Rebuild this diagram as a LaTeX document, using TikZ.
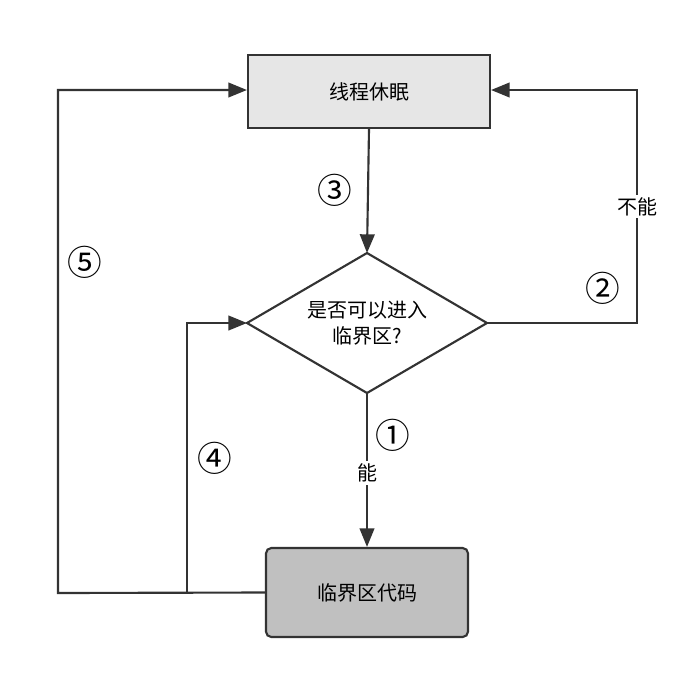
\documentclass[tikz,border=0pt]{standalone}
\usepackage{fontspec}
\setmainfont{Noto Sans CJK SC}
\usetikzlibrary{arrows.meta}
\definecolor{lg}{HTML}{E6E6E6}
\definecolor{dg}{HTML}{C0C0C0}
\definecolor{ln}{HTML}{333333}
\begin{document}
\begin{tikzpicture}[x=0.75pt,y=-0.75pt,
  box/.style={draw=ln,line width=1.6pt,minimum width=181.5pt,inner sep=0pt,font=\fontsize{15pt}{18pt}\selectfont},
  con/.style={draw=ln,line width=1.6pt,-{Triangle[length=14pt,width=11pt]}},
  num/.style={font=\fontsize{26pt}{28pt}\selectfont,text=black},
  lab/.style={fill=white,inner sep=2pt,font=\fontsize{15pt}{18pt}\selectfont}]
\useasboundingbox (0,0) rectangle (693,690);
\node[box,fill=lg,minimum height=54.75pt] (sleep) at (369,91.5) {线程休眠};
\node[box,fill=dg,rounded corners=4pt,minimum width=151.5pt,minimum height=66.75pt] (code) at (367,592.5) {临界区代码};
\coordinate (dt) at (367,253); \coordinate (db) at (367,393);
\coordinate (dl) at (247,323); \coordinate (dr) at (487,323);
\draw[ln,line width=1.6pt,fill=white] (dt)--(dr)--(db)--(dl)--cycle;
\node[align=center,font=\fontsize{15pt}{20pt}\selectfont] (q) at (367,323) {是否可以进入\\临界区?};
\draw[con] (sleep.south) -- (dt);
\draw[con] (db) -- node[lab,pos=0.52]{能} (code.north);
\draw[con] (dr) -- (637,323) -- node[lab,pos=0.5]{不能} (637,90) -- (sleep.east |- 0,90);
\draw[con] (code.west) -- (58,593) -- (58,90) -- (sleep.west |- 0,90);
\draw[con] (187,593) -- (187,323) -- (dl);
\node[num] (n3) at (335,190) {③};
\node[num] (n1) at (393,435) {①};
\node[num] (n2) at (603,288) {②};
\node[num] (n5) at (85,262) {⑤};
\node[num] (n4) at (215,458) {④};
\end{tikzpicture}
\end{document}
